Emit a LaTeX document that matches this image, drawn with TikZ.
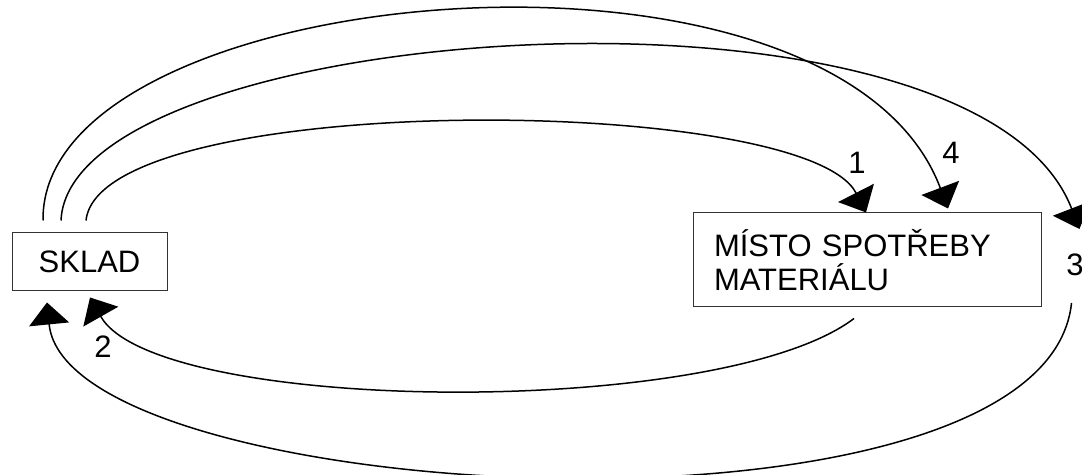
\documentclass[tikz,border=0pt]{standalone}
\usepackage{fontspec}
\setmainfont{Liberation Sans}
\usepackage{tikz}
\usetikzlibrary{arrows.meta, positioning}

\begin{document}
\begin{tikzpicture}[x=0.5pt, y=-0.5pt,
    boxnode/.style={rectangle, draw=black!80, line width=0.5pt, inner sep=0pt, minimum height=29pt, align=center, font=\fontsize{15.5}{17}\selectfont},
    wideboxnode/.style={boxnode, minimum height=47pt, inner xsep=10.5pt, text width=153pt, align=left},
    labnode/.style={inner sep=0pt, font=\fontsize{15.5}{17}\selectfont},
    arr/.style={draw=black, line width=0.75pt, -{Triangle[length=11pt, width=20pt]}}
]
    \useasboundingbox (0,0) rectangle (1082,475);

    % Boxes
    \node (sklad) [boxnode, minimum width=77.5pt] at (89.5,262) {SKLAD};
    \node (misto) [wideboxnode, right=262.5pt of sklad, yshift=1pt] {MÍSTO SPOTŘEBY\\MATERIÁLU};

    % Labels
    \node (lab1) [labnode] at (857,163) {1};
    \node (lab4) [labnode] at (951,153) {4};
    \node (lab3) [labnode] at (1075,265) {3};
    \node (lab2) [labnode] at (103,347) {2};

    % Route 3 passes beside the consumption box
    \coordinate (in3) at ([shift={(38,-31)}]misto.east);
    \coordinate (out3) at ([shift={(30,43)}]misto.east);

    % Arrows
    \draw [arr] ([shift={(-3.5,-12)}]sklad.north) .. controls (100,90) and (805,93) .. ([shift={(-1,0)}]misto.north);
    \draw [arr] ([shift={(-46.5,-12)}]sklad.north) .. controls (40,-20) and (835,-92) .. ([shift={(81,-4)}]misto.north);
    \draw [arr] ([shift={(-28.5,-12)}]sklad.north) .. controls (70,20) and (974,-44) .. (in3);
    \draw [arr] ([shift={(-13,11)}]misto.south) .. controls (720,420) and (156,414) .. ([shift={(0.5,6)}]sklad.south);
    \draw [arr] (out3) .. controls (1045,560) and (67,507) .. ([shift={(-42.5,11)}]sklad.south);
\end{tikzpicture}
\end{document}
